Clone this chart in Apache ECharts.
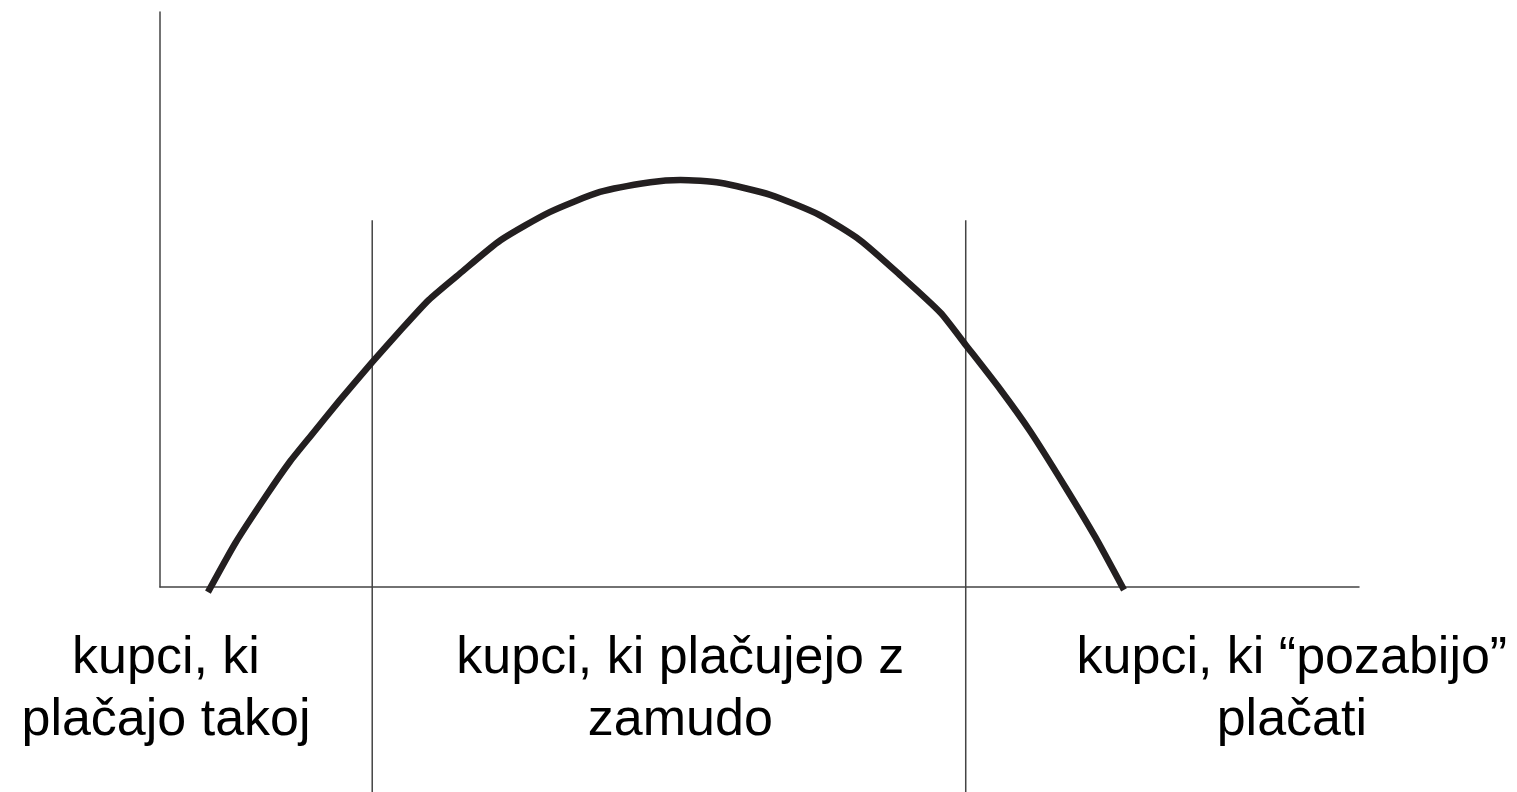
<!DOCTYPE html>
<html>
<head>
<meta charset="utf-8">
<title>Kupci - plačilna disciplina</title>
<script src="https://cdn.jsdelivr.net/npm/echarts@6/dist/echarts.min.js"></script>
<style>
  html, body { margin: 0; padding: 0; background: #fff; }
  #chart { width: 1517px; height: 792px; }
</style>
</head>
<body>
<div id="chart"></div>
<script>
// curve points (x, y on a 0..100 scale)
const curveX = [4.0, 6.3, 8.8, 10.8, 12.5, 15.0, 17.7, 20.0, 22.4, 25.0, 28.4, 32.5, 36.7, 40.9, 43.4, 46.7, 50.9, 55.0, 58.4, 61.7, 65.1, 67.2, 70.1, 72.6, 75.5, 78.0, 80.4];
const curveY = [-0.9, 7.7, 15.7, 21.7, 26.1, 32.5, 39.1, 44.5, 49.9, 54.5, 60.3, 65.2, 68.7, 70.4, 70.8, 70.3, 68.2, 64.7, 60.3, 54.3, 47.7, 42.1, 34.3, 27.0, 17.4, 8.7, -0.5];

// section borders
const dividerX = [17.7, 67.2];
const dividerTop = 63.8;
const dividerBottom = -35.7;

// section captions
const sectionNames = ['kupci, ki\nplačajo takoj', 'kupci, ki plačujejo z\nzamudo', 'kupci, ki “pozabijo”\nplačati'];
const sectionX = [0.5, 43.4, 94.4];
const sectionY = -17.9;

const chart = echarts.init(document.getElementById('chart'));

const dividerSeries = dividerX.map(x => ({
    type: 'line',
    data: [[x, dividerTop], [x, dividerBottom]],
    symbol: 'none',
    clip: false,
    silent: true,
    lineStyle: { color: '#444', width: 1.5 }
}));

const option = {
    animation: false,
    grid: { left: 160, right: 158, top: 12, bottom: 205 },
    xAxis: {
        type: 'value',
        min: 0,
        max: 100,
        axisLine: { onZero: false, lineStyle: { color: '#444', width: 1.5 } },
        axisTick: { show: false },
        axisLabel: { show: false },
        splitLine: { show: false }
    },
    yAxis: {
        type: 'value',
        min: 0,
        max: 100,
        axisLine: { show: true, lineStyle: { color: '#444', width: 1.5 } },
        axisTick: { show: false },
        axisLabel: { show: false },
        splitLine: { show: false }
    },
    series: [
        ...dividerSeries,
        {
            type: 'line',
            data: curveX.map((x, i) => [x, curveY[i]]),
            symbol: 'none',
            smooth: 0.2,
            clip: false,
            lineStyle: { color: '#231f20', width: 6.5 }
        },
        {
            type: 'scatter',
            data: sectionNames.map((name, i) => ({ name: name, value: [sectionX[i], sectionY] })),
            symbolSize: 0,
            clip: false,
            silent: true,
            itemStyle: { opacity: 1 },
            label: {
                show: true,
                position: 'inside',
                formatter: p => p.name,
                fontFamily: 'Liberation Sans',
                fontSize: 52,
                lineHeight: 62,
                color: '#000',
                opacity: 1,
                align: 'center',
                verticalAlign: 'middle'
            }
        }
    ]
};

chart.setOption(option);
</script>
</body>
</html>
